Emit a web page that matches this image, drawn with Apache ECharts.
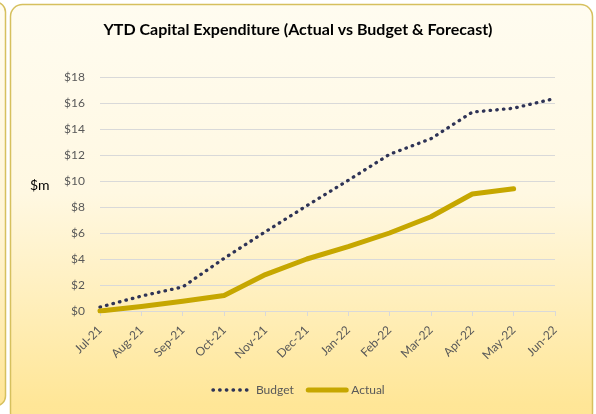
<!DOCTYPE html>
<html>
<head>
<meta charset="utf-8">
<script src="https://cdn.jsdelivr.net/npm/echarts@6/dist/echarts.min.js"></script>
<style>
  html, body { margin: 0; padding: 0; background: #ffffff; }
  #capex { width: 596px; height: 414px; }
</style>
</head>
<body>
<div id="capex"></div>
<script>
// months Jul-21 .. Jun-22, values in $m (cumulative)
const months = ["Jul-21", "Aug-21", "Sep-21", "Oct-21", "Nov-21", "Dec-21",
  "Jan-22", "Feb-22", "Mar-22", "Apr-22", "May-22", "Jun-22"];
const budget = [0.3, 1.15, 1.85, 4.05, 6.1, 8.1, 10.05, 12.05, 13.25, 15.3, 15.6, 16.35];
const actual = [0, 0.35, 0.75, 1.2, 2.8, 4.0, 4.95, 6.0, 7.25, 9.0, 9.4, null];
const yTicks = [0, 2, 4, 6, 8, 10, 12, 14, 16, 18];

const font = "Lato, 'Open Sans', sans-serif";

const chart = echarts.init(document.getElementById("capex"));

const option = {
  backgroundColor: "#ffffff",
  animation: false,
  graphic: [
    {
      // edge of the neighbouring panel
      type: "rect",
      z: -10,
      shape: { x: -30, y: 2, width: 35.5, height: 404, r: 10 },
      style: {
        fill: new echarts.graphic.LinearGradient(0, 0, 0, 1, [
          { offset: 0, color: "#fffcf0" },
          { offset: 0.55, color: "#fff5d6" },
          { offset: 1, color: "#ffe595" },
        ]),
        stroke: "#d6c05e",
        lineWidth: 1.5,
      },
    },
    {
      type: "rect",
      z: -10,
      shape: { x: 10.5, y: 4.5, width: 582, height: 420, r: 12 },
      style: {
        fill: new echarts.graphic.LinearGradient(0, 0, 0, 1, [
          { offset: 0, color: "#fffcf0" },
          { offset: 0.45, color: "#fff8e2" },
          { offset: 0.95, color: "#ffe697" },
          { offset: 1, color: "#ffe595" },
        ]),
        stroke: "#d6c05e",
        lineWidth: 1.5,
      },
    },
    {
      type: "text",
      left: 30,
      top: 178,
      style: { text: "$m", font: "14px " + font, fill: "#000000" },
    },
  ],
  title: {
    text: "YTD Capital Expenditure (Actual vs Budget & Forecast)",
    left: "center",
    top: 17,
    padding: [5, 5, 5, 27],
    textStyle: { fontFamily: font, fontSize: 16, fontWeight: "bold", color: "#000000" },
  },
  grid: { left: 100, right: 41, top: 77, bottom: 103 },
  legend: {
    bottom: 13,
    left: "center",
    itemWidth: 38,
    itemHeight: 10,
    itemGap: 12,
    itemStyle: { opacity: 0 },
    textStyle: { fontFamily: font, fontSize: 12, color: "#595959" },
    data: [
      { name: "Budget", lineStyle: { width: 3.3 } },
      { name: "Actual", lineStyle: { width: 5 } },
    ],
  },
  xAxis: {
    type: "category",
    data: months,
    boundaryGap: false,
    axisLine: { lineStyle: { color: "#d9d9d9", width: 1 } },
    axisTick: { show: true, length: 5, lineStyle: { color: "#d9d9d9" } },
    axisLabel: {
      rotate: 45,
      margin: 17,
      fontFamily: font,
      fontSize: 12,
      color: "#595959",
    },
  },
  yAxis: {
    type: "value",
    min: yTicks[0],
    max: yTicks[yTicks.length - 1],
    interval: 2,
    axisLine: { show: false },
    axisTick: { show: false },
    splitLine: { lineStyle: { color: "#d9d9d9", width: 1 } },
    axisLabel: {
      margin: 15,
      fontFamily: font,
      fontSize: 12,
      color: "#595959",
      formatter: (v) => "$" + v,
    },
  },
  series: [
    {
      name: "Budget",
      type: "line",
      data: budget,
      symbol: "none",
      color: "#2e3356",
      lineStyle: { color: "#2e3356", width: 3.3, type: [0.5, 6.2], cap: "round" },
    },
    {
      name: "Actual",
      type: "line",
      data: actual,
      symbol: "none",
      color: "#c6a700",
      lineStyle: { color: "#c6a700", width: 5, cap: "round", join: "round" },
    },
  ],
};

chart.setOption(option);
</script>
</body>
</html>
